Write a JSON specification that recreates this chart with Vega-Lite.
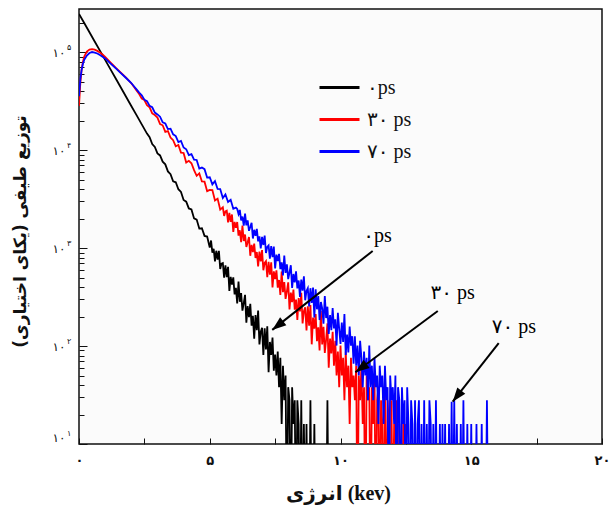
{
  "$schema": "https://vega.github.io/schema/vega-lite/v6.json",
  "width": 523,
  "height": 435,
  "autosize": {"type": "none"},
  "padding": {"left": 79, "top": 9, "right": 10, "bottom": 64},
  "background": "white",
  "config": {
    "view": {"stroke": "#111111", "strokeWidth": 1.5, "fill": "#fbfbfb"},
    "axis": {"domain": false, "grid": false, "tickColor": "#111111", "labelColor": "#111111", "titleColor": "#111111"}
  },
  "datasets": {
    "k0": [
      {"e":0,"v":245000},{"e":0.2,"v":197700},{"e":0.4,"v":159200},{"e":0.6,"v":128200},{"e":0.8,"v":103300},{"e":1.0,"v":83200},{"e":1.2,"v":67000},{"e":1.4,"v":54000},{"e":1.6,"v":43450},{"e":1.8,"v":35000},{"e":2.0,"v":28180},{"e":2.2,"v":22700},{"e":2.4,"v":18280},{"e":2.6,"v":14720},{"e":2.7,"v":13520},{"e":2.8,"v":11530},{"e":2.9,"v":10770},{"e":3.0,"v":9230},{"e":3.1,"v":8810},{"e":3.2,"v":7600},{"e":3.3,"v":7145},{"e":3.4,"v":6053},{"e":3.5,"v":5662},{"e":3.6,"v":4786},{"e":3.7,"v":4688},{"e":3.8,"v":3981},{"e":3.9,"v":3733},{"e":4.0,"v":3090},{"e":4.1,"v":2972},{"e":4.2,"v":2535},{"e":4.3,"v":2477},{"e":4.4,"v":2004},{"e":4.5,"v":1950},{"e":4.6,"v":1578},{"e":4.7,"v":1589},{"e":4.8,"v":1330},{"e":4.9,"v":1309},{"e":5.0,"v":1012},
      {"e":5.05,"v":1194},{"e":5.1,"v":897},{"e":5.15,"v":981},{"e":5.2,"v":731},{"e":5.25,"v":938},{"e":5.3,"v":762},{"e":5.35,"v":937},{"e":5.4,"v":611},{"e":5.45,"v":693},{"e":5.5,"v":703},{"e":5.55,"v":498},{"e":5.6,"v":665},{"e":5.65,"v":504},{"e":5.7,"v":644},{"e":5.75,"v":364},{"e":5.8,"v":508},{"e":5.85,"v":424},{"e":5.9,"v":501},{"e":5.95,"v":336},{"e":6.0,"v":392},{"e":6.05,"v":272},{"e":6.1,"v":456},{"e":6.15,"v":283},{"e":6.2,"v":347},{"e":6.25,"v":230},{"e":6.3,"v":274},{"e":6.35,"v":333},{"e":6.4,"v":173},{"e":6.45,"v":256},{"e":6.5,"v":197},{"e":6.55,"v":269},{"e":6.6,"v":161},{"e":6.65,"v":203},{"e":6.7,"v":119},{"e":6.75,"v":207},{"e":6.8,"v":145},{"e":6.85,"v":230},{"e":6.9,"v":104},{"e":6.95,"v":140},{"e":7.0,"v":153},{"e":7.05,"v":81},{"e":7.1,"v":152},{"e":7.15,"v":92},{"e":7.2,"v":159},{"e":7.25,"v":54},{"e":7.3,"v":110},{"e":7.35,"v":81},{"e":7.4,"v":122},{"e":7.45,"v":56},{"e":7.5,"v":82},{"e":7.55,"v":50},{"e":7.6,"v":88},{"e":7.65,"v":38},{"e":7.7,"v":76},{"e":7.75,"v":16},{"e":7.8,"v":63},{"e":7.85,"v":28},{"e":7.9,"v":50},{"e":7.95,"v":1},{"e":8.0,"v":38},{"e":8.05,"v":28},{"e":8.1,"v":1},{"e":8.15,"v":38},{"e":8.2,"v":16},{"e":8.25,"v":28},{"e":8.3,"v":1},{"e":8.35,"v":28},{"e":8.4,"v":16},{"e":8.45,"v":1},{"e":8.5,"v":28},{"e":8.55,"v":1},{"e":8.6,"v":16},{"e":8.65,"v":1},{"e":8.7,"v":16},{"e":8.75,"v":1},{"e":8.8,"v":1},{"e":8.85,"v":28},{"e":8.9,"v":1},{"e":8.95,"v":1},{"e":9.0,"v":16},{"e":9.05,"v":1},{"e":9.45,"v":1},{"e":9.5,"v":28},{"e":9.55,"v":1}
    ],
    "k30": [
      {"e":0,"v":28180},{"e":0.05,"v":47860},{"e":0.1,"v":66070},{"e":0.15,"v":79430},{"e":0.2,"v":90160},{"e":0.3,"v":101200},{"e":0.4,"v":105900},{"e":0.5,"v":107200},{"e":0.6,"v":105900},{"e":0.7,"v":102800},{"e":0.8,"v":98860},{"e":0.9,"v":94410},{"e":1.0,"v":89130},{"e":1.2,"v":78520},{"e":1.4,"v":69180},{"e":1.6,"v":61660},{"e":1.8,"v":54950},{"e":2.0,"v":48080},{"e":2.1,"v":44160},{"e":2.2,"v":40610},{"e":2.3,"v":37330},{"e":2.4,"v":33500},{"e":2.5,"v":32430},{"e":2.6,"v":28770},{"e":2.7,"v":27260},{"e":2.8,"v":23660},{"e":2.9,"v":22750},{"e":3.0,"v":21430},{"e":3.1,"v":18450},{"e":3.2,"v":17890},{"e":3.3,"v":15350},{"e":3.4,"v":15630},{"e":3.5,"v":13400},{"e":3.6,"v":12590},{"e":3.7,"v":10900},{"e":3.8,"v":11250},{"e":3.9,"v":9420},{"e":4.0,"v":9333},{"e":4.1,"v":7464},{"e":4.2,"v":7755},{"e":4.3,"v":7328},{"e":4.4,"v":6237},{"e":4.5,"v":5454},{"e":4.6,"v":5781},{"e":4.7,"v":4781},{"e":4.8,"v":4753},{"e":4.9,"v":3805},{"e":5.0,"v":3925},{"e":5.1,"v":3908},{"e":5.2,"v":3059},{"e":5.3,"v":3192},{"e":5.4,"v":2468},{"e":5.5,"v":2604},
      {"e":5.55,"v":2123},{"e":5.6,"v":2366},{"e":5.65,"v":2403},{"e":5.7,"v":1830},{"e":5.75,"v":2287},{"e":5.8,"v":1845},{"e":5.85,"v":2201},{"e":5.9,"v":1460},{"e":5.95,"v":1845},{"e":6.0,"v":1613},{"e":6.05,"v":1843},{"e":6.1,"v":1340},{"e":6.15,"v":1516},{"e":6.2,"v":1150},{"e":6.25,"v":1691},{"e":6.3,"v":1180},{"e":6.35,"v":1373},{"e":6.4,"v":1026},{"e":6.45,"v":1146},{"e":6.5,"v":1296},{"e":6.55,"v":833},{"e":6.6,"v":1078},{"e":6.65,"v":907},{"e":6.7,"v":1108},{"e":6.75,"v":791},{"e":6.8,"v":911},{"e":6.85,"v":648},{"e":6.9,"v":918},{"e":6.95,"v":729},{"e":7.0,"v":952},{"e":7.05,"v":593},{"e":7.1,"v":704},{"e":7.15,"v":734},{"e":7.2,"v":504},{"e":7.25,"v":722},{"e":7.3,"v":536},{"e":7.35,"v":716},{"e":7.4,"v":397},{"e":7.45,"v":578},{"e":7.5,"v":483},{"e":7.55,"v":591},{"e":7.6,"v":394},{"e":7.65,"v":472},{"e":7.7,"v":332},{"e":7.75,"v":577},{"e":7.8,"v":354},{"e":7.85,"v":448},{"e":7.9,"v":303},{"e":7.95,"v":362},{"e":8.0,"v":447},{"e":8.05,"v":236},{"e":8.1,"v":351},{"e":8.15,"v":280},{"e":8.2,"v":376},{"e":8.25,"v":235},{"e":8.3,"v":298},{"e":8.35,"v":185},{"e":8.4,"v":309},{"e":8.45,"v":226},{"e":8.5,"v":349},{"e":8.55,"v":170},{"e":8.6,"v":227},{"e":8.65,"v":248},{"e":8.7,"v":144},{"e":8.75,"v":254},{"e":8.8,"v":161},{"e":8.85,"v":262},{"e":8.9,"v":104},{"e":8.95,"v":195},{"e":9.0,"v":150},{"e":9.05,"v":212},{"e":9.1,"v":112},{"e":9.15,"v":155},{"e":9.2,"v":90},{"e":9.25,"v":227},{"e":9.3,"v":104},{"e":9.35,"v":157},{"e":9.4,"v":85},{"e":9.45,"v":116},{"e":9.5,"v":170},{"e":9.55,"v":60},{"e":9.6,"v":119},{"e":9.65,"v":84},{"e":9.7,"v":140},{"e":9.75,"v":63},{"e":9.8,"v":113},{"e":9.85,"v":50},{"e":9.9,"v":88},{"e":9.95,"v":38},{"e":10.0,"v":101},{"e":10.05,"v":50},{"e":10.1,"v":76},{"e":10.15,"v":28},{"e":10.2,"v":88},{"e":10.25,"v":38},{"e":10.3,"v":63},{"e":10.35,"v":16},{"e":10.4,"v":76},{"e":10.45,"v":38},{"e":10.5,"v":50},{"e":10.55,"v":28},{"e":10.6,"v":63},{"e":10.65,"v":1},{"e":10.7,"v":50},{"e":10.75,"v":28},{"e":10.8,"v":63},{"e":10.85,"v":16},{"e":10.9,"v":38},{"e":10.95,"v":1},{"e":11.0,"v":50},{"e":11.05,"v":28},{"e":11.1,"v":38},{"e":11.15,"v":1},{"e":11.2,"v":38},{"e":11.25,"v":16},{"e":11.3,"v":50},{"e":11.35,"v":1},{"e":11.4,"v":28},{"e":11.45,"v":38},{"e":11.5,"v":1},{"e":11.55,"v":28},{"e":11.6,"v":16},{"e":11.65,"v":1},{"e":11.7,"v":38},{"e":11.75,"v":1},{"e":11.8,"v":28},{"e":11.85,"v":16},{"e":11.9,"v":1},{"e":11.95,"v":28},{"e":12.0,"v":1},{"e":12.05,"v":16},{"e":12.1,"v":1},{"e":12.15,"v":28},{"e":12.2,"v":1},{"e":12.25,"v":16},{"e":12.3,"v":1},{"e":12.35,"v":1},{"e":12.4,"v":16},{"e":12.45,"v":1},{"e":12.5,"v":16},{"e":12.55,"v":1}
    ],
    "k70": [
      {"e":0,"v":35480},{"e":0.05,"v":52480},{"e":0.1,"v":66070},{"e":0.15,"v":75860},{"e":0.2,"v":83180},{"e":0.3,"v":92260},{"e":0.4,"v":97720},{"e":0.5,"v":100000},{"e":0.6,"v":98860},{"e":0.7,"v":96610},{"e":0.8,"v":93330},{"e":0.9,"v":89740},{"e":1.0,"v":86100},{"e":1.2,"v":76740},{"e":1.4,"v":68390},{"e":1.6,"v":60950},{"e":1.8,"v":54330},{"e":2.0,"v":48290},{"e":2.1,"v":44810},{"e":2.2,"v":41590},{"e":2.3,"v":38600},{"e":2.4,"v":36250},{"e":2.5,"v":32650},{"e":2.6,"v":31580},{"e":2.7,"v":28250},{"e":2.8,"v":27330},{"e":2.9,"v":24110},{"e":3.0,"v":23110},{"e":3.1,"v":21890},{"e":3.2,"v":19190},{"e":3.3,"v":18650},{"e":3.4,"v":16380},{"e":3.5,"v":16510},{"e":3.6,"v":14470},{"e":3.7,"v":13900},{"e":3.8,"v":12040},{"e":3.9,"v":12400},{"e":4.0,"v":10610},{"e":4.1,"v":10190},{"e":4.2,"v":8892},{"e":4.3,"v":9091},{"e":4.4,"v":7983},{"e":4.5,"v":7921},{"e":4.6,"v":6477},{"e":4.7,"v":6622},{"e":4.8,"v":6377},{"e":4.9,"v":5238},{"e":5.0,"v":5270},{"e":5.1,"v":4460},{"e":5.2,"v":4808},{"e":5.3,"v":4005},{"e":5.4,"v":4001},{"e":5.5,"v":3234},{"e":5.6,"v":3526},{"e":5.7,"v":2951},{"e":5.8,"v":3109},{"e":5.9,"v":2513},{"e":6.0,"v":2587},
      {"e":6.05,"v":2504},{"e":6.1,"v":2220},{"e":6.15,"v":2447},{"e":6.2,"v":1917},{"e":6.25,"v":2091},{"e":6.3,"v":1689},{"e":6.35,"v":2244},{"e":6.4,"v":1703},{"e":6.45,"v":1914},{"e":6.5,"v":1499},{"e":6.55,"v":1639},{"e":6.6,"v":1813},{"e":6.65,"v":1251},{"e":6.7,"v":1535},{"e":6.75,"v":1333},{"e":6.8,"v":1565},{"e":6.85,"v":1171},{"e":6.9,"v":1313},{"e":6.95,"v":994},{"e":7.0,"v":1298},{"e":7.05,"v":1074},{"e":7.1,"v":1341},{"e":7.15,"v":890},{"e":7.2,"v":1028},{"e":7.25,"v":1064},{"e":7.3,"v":779},{"e":7.35,"v":1046},{"e":7.4,"v":807},{"e":7.45,"v":1036},{"e":7.5,"v":620},{"e":7.55,"v":857},{"e":7.6,"v":734},{"e":7.65,"v":872},{"e":7.7,"v":610},{"e":7.75,"v":715},{"e":7.8,"v":525},{"e":7.85,"v":836},{"e":7.9,"v":557},{"e":7.95,"v":680},{"e":8.0,"v":482},{"e":8.05,"v":562},{"e":8.1,"v":668},{"e":8.15,"v":391},{"e":8.2,"v":543},{"e":8.25,"v":447},{"e":8.3,"v":579},{"e":8.35,"v":387},{"e":8.4,"v":466},{"e":8.45,"v":317},{"e":8.5,"v":477},{"e":8.55,"v":368},{"e":8.6,"v":515},{"e":8.65,"v":293},{"e":8.7,"v":365},{"e":8.75,"v":389},{"e":8.8,"v":254},{"e":8.85,"v":389},{"e":8.9,"v":275},{"e":8.95,"v":394},{"e":9.0,"v":196},{"e":9.05,"v":380},{"e":9.1,"v":237},{"e":9.15,"v":323},{"e":9.2,"v":184},{"e":9.25,"v":281},{"e":9.3,"v":242},{"e":9.35,"v":169},{"e":9.4,"v":323},{"e":9.45,"v":193},{"e":9.5,"v":252},{"e":9.55,"v":133},{"e":9.6,"v":207},{"e":9.65,"v":145},{"e":9.7,"v":244},{"e":9.75,"v":151},{"e":9.8,"v":187},{"e":9.85,"v":101},{"e":9.9,"v":218},{"e":9.95,"v":151},{"e":10.0,"v":105},{"e":10.05,"v":174},{"e":10.1,"v":110},{"e":10.15,"v":212},{"e":10.2,"v":81},{"e":10.25,"v":131},{"e":10.3,"v":86},{"e":10.35,"v":158},{"e":10.4,"v":101},{"e":10.45,"v":126},{"e":10.5,"v":66},{"e":10.55,"v":126},{"e":10.6,"v":63},{"e":10.65,"v":101},{"e":10.7,"v":50},{"e":10.75,"v":113},{"e":10.8,"v":76},{"e":10.85,"v":38},{"e":10.9,"v":88},{"e":10.95,"v":50},{"e":11.0,"v":76},{"e":11.05,"v":28},{"e":11.1,"v":101},{"e":11.15,"v":38},{"e":11.2,"v":63},{"e":11.25,"v":28},{"e":11.3,"v":76},{"e":11.35,"v":38},{"e":11.4,"v":50},{"e":11.45,"v":16},{"e":11.5,"v":63},{"e":11.55,"v":38},{"e":11.6,"v":50},{"e":11.65,"v":16},{"e":11.7,"v":63},{"e":11.75,"v":28},{"e":11.8,"v":38},{"e":11.85,"v":1},{"e":11.9,"v":50},{"e":11.95,"v":28},{"e":12.0,"v":38},{"e":12.05,"v":16},{"e":12.1,"v":50},{"e":12.15,"v":1},{"e":12.2,"v":38},{"e":12.25,"v":28},{"e":12.3,"v":1},{"e":12.35,"v":38},{"e":12.4,"v":16},{"e":12.45,"v":28},{"e":12.5,"v":1},{"e":12.55,"v":38},{"e":12.6,"v":16},{"e":12.65,"v":1},{"e":12.7,"v":28},{"e":12.75,"v":16},{"e":12.8,"v":1},{"e":12.85,"v":28},{"e":12.9,"v":1},{"e":12.95,"v":16},{"e":13.0,"v":28},{"e":13.05,"v":1},{"e":13.1,"v":16},{"e":13.15,"v":1},{"e":13.2,"v":28},{"e":13.25,"v":1},{"e":13.3,"v":16},{"e":13.35,"v":1},{"e":13.4,"v":28},{"e":13.45,"v":16},{"e":13.5,"v":1},{"e":13.55,"v":16},{"e":13.6,"v":1},{"e":13.65,"v":28},{"e":13.7,"v":1},{"e":13.75,"v":1},{"e":13.8,"v":16},{"e":13.85,"v":1},{"e":13.9,"v":16},{"e":13.95,"v":1},{"e":14.0,"v":16},{"e":14.05,"v":1},{"e":14.1,"v":1},{"e":14.15,"v":16},{"e":14.2,"v":1},{"e":14.25,"v":27},{"e":14.3,"v":1},{"e":14.35,"v":28},{"e":14.4,"v":1},{"e":14.45,"v":16},{"e":14.5,"v":1},{"e":14.55,"v":1},{"e":14.6,"v":16},{"e":14.65,"v":1},{"e":14.7,"v":28},{"e":14.75,"v":1},{"e":14.8,"v":1},{"e":14.85,"v":16},{"e":14.9,"v":1},{"e":14.95,"v":1},{"e":15.0,"v":16},{"e":15.05,"v":1},{"e":15.15,"v":1},{"e":15.2,"v":16},{"e":15.25,"v":1},{"e":15.35,"v":1},{"e":15.4,"v":16},{"e":15.45,"v":1},{"e":15.55,"v":1},{"e":15.6,"v":28},{"e":15.65,"v":1}
    ],
    "arrows": [
      {"lab":"۰ps","e":11.23,"v":933,"e2":7.39,"v2":146},
      {"lab":"۳۰ ps","e":13.72,"v":228,"e2":10.57,"v2":54},
      {"lab":"۷۰ ps","e":16.05,"v":107,"e2":14.29,"v2":27}
    ],
    "notes": [
      {"lab":"۰ps","e":11.42,"v":1324},
      {"lab":"۳۰ ps","e":14.29,"v":348},
      {"lab":"۷۰ ps","e":16.63,"v":156}
    ],
    "exps": [
      {"v":10,"t":"۱"},{"v":100,"t":"۲"},{"v":1000,"t":"۳"},{"v":10000,"t":"۴"},{"v":100000,"t":"۵"}
    ]
  },
  "resolve": {"axis": {"y": "independent"}},
  "layer": [
    {
      "data": {"name": "k0"},
      "mark": {"type": "line", "clip": true, "strokeWidth": 1.8},
      "encoding": {
        "x": {
          "field": "e", "type": "quantitative", "title": "\u200eانرژی (kev)",
          "scale": {"domain": [0, 20], "nice": false, "zero": false},
          "axis": {
            "values": [0, 2.5, 5, 7.5, 10, 12.5, 15, 17.5, 20],
            "tickSize": -6,
            "labelExpr": "datum.value == 0 ? '۰' : datum.value == 5 ? '۵' : datum.value == 10 ? '۱۰' : datum.value == 15 ? '۱۵' : datum.value == 20 ? '۲۰' : ''",
            "labelFlush": false,
            "labelFont": "DejaVu Sans",
            "labelFontSize": 13,
            "labelFontWeight": "bold",
            "labelPadding": 16,
            "titleFont": "Liberation Serif, DejaVu Sans",
            "titleFontSize": 20,
            "titleFontWeight": "bold",
            "titleX": 259,
            "titleY": 49,
            "titleAlign": "center",
            "titleBaseline": "middle"
          }
        },
        "y": {
          "field": "v", "type": "quantitative",
          "scale": {"type": "log", "domain": [10, 275000], "nice": false},
          "axis": {
            "orient": "left",
            "values": [10, 100, 1000, 10000, 100000],
            "tickSize": -8,
            "labelExpr": "'۱۰'",
            "labelFlush": true,
            "labelFont": "DejaVu Sans",
            "labelFontSize": 12,
            "labelPadding": 22,
            "title": "توزیع طیفی (یکای اختیاری)\u200f",
            "titleFont": "DejaVu Sans",
            "titleFontSize": 17,
            "titleFontWeight": "bold",
            "titleX": -59,
            "titleY": 222,
            "titleAngle": 270,
            "titleAlign": "center",
            "titleBaseline": "middle"
          }
        },
        "color": {
          "datum": "۰ps", "type": "nominal",
          "scale": {"domain": ["۰ps", "۳۰ ps", "۷۰ ps"], "range": ["#000000", "#ff0000", "#0000ff"]},
          "legend": {
            "orient": "none", "legendX": 243, "legendY": 61, "title": null,
            "symbolType": "M-1.25,0L1.25,0", "symbolSize": 1024, "symbolStrokeWidth": 3,
            "labelFont": "Liberation Serif, DejaVu Sans", "labelFontSize": 20, "labelOffset": 10,
            "rowPadding": 4, "labelColor": "#111111"
          }
        }
      }
    },
    {
      "data": {"name": "k30"},
      "mark": {"type": "line", "clip": true, "strokeWidth": 1.8},
      "encoding": {
        "x": {"field": "e", "type": "quantitative", "title": "\u200eانرژی (kev)"},
        "y": {"field": "v", "type": "quantitative", "axis": null},
        "color": {"datum": "۳۰ ps", "type": "nominal"}
      }
    },
    {
      "data": {"name": "k70"},
      "mark": {"type": "line", "clip": true, "strokeWidth": 1.8},
      "encoding": {
        "x": {"field": "e", "type": "quantitative", "title": "\u200eانرژی (kev)"},
        "y": {"field": "v", "type": "quantitative", "axis": null},
        "color": {"datum": "۷۰ ps", "type": "nominal"}
      }
    },
    {
      "data": {"name": "arrows"},
      "mark": {"type": "rule", "color": "#000000", "strokeWidth": 2},
      "encoding": {
        "x": {"field": "e", "type": "quantitative", "title": "\u200eانرژی (kev)"},
        "x2": {"field": "e2"},
        "y": {"field": "v", "type": "quantitative", "axis": null},
        "y2": {"field": "v2"}
      }
    },
    {
      "data": {"name": "arrows"},
      "mark": {"type": "point", "shape": "M0,0L0.36,1L-0.36,1Z", "filled": true, "color": "#000000", "opacity": 1, "size": 784, "strokeWidth": 0},
      "encoding": {
        "x": {"field": "e2", "type": "quantitative", "title": "\u200eانرژی (kev)"},
        "y": {"field": "v2", "type": "quantitative", "axis": null},
        "angle": {"field": "lab", "type": "nominal", "scale": {"type": "ordinal", "domain": ["۰ps", "۳۰ ps", "۷۰ ps"], "range": [231.7, 233.3, 217.9]}, "legend": null}
      }
    },
    {
      "data": {"name": "notes"},
      "mark": {"type": "text", "font": "Liberation Serif, DejaVu Sans", "fontSize": 20, "align": "center", "baseline": "middle", "color": "#000000"},
      "encoding": {
        "x": {"field": "e", "type": "quantitative", "title": "\u200eانرژی (kev)"},
        "y": {"field": "v", "type": "quantitative", "axis": null},
        "text": {"field": "lab"}
      }
    },
    {
      "data": {"name": "exps"},
      "transform": [{"filter": "datum.v > 10"}],
      "mark": {"type": "text", "font": "DejaVu Sans", "fontSize": 8, "align": "left", "baseline": "middle", "dx": -12, "dy": -4, "clip": false, "color": "#111111"},
      "encoding": {
        "x": {"datum": 0, "type": "quantitative"},
        "y": {
          "field": "v", "type": "quantitative",
          "axis": {
            "orient": "left",
            "values": [20, 30, 40, 50, 60, 70, 80, 90, 200, 300, 400, 500, 600, 700, 800, 900, 2000, 3000, 4000, 5000, 6000, 7000, 8000, 9000, 20000, 30000, 40000, 50000, 60000, 70000, 80000, 90000, 200000],
            "tickSize": -5, "labels": false, "title": null, "domain": false
          }
        },
        "text": {"field": "t"}
      }
    },
    {
      "data": {"name": "exps"},
      "transform": [{"filter": "datum.v == 10"}],
      "mark": {"type": "text", "font": "DejaVu Sans", "fontSize": 8, "align": "left", "baseline": "middle", "dx": -12, "dy": -10, "clip": false, "color": "#111111"},
      "encoding": {
        "x": {"datum": 0, "type": "quantitative"},
        "y": {"field": "v", "type": "quantitative", "axis": null},
        "text": {"field": "t"}
      }
    }
  ]
}
